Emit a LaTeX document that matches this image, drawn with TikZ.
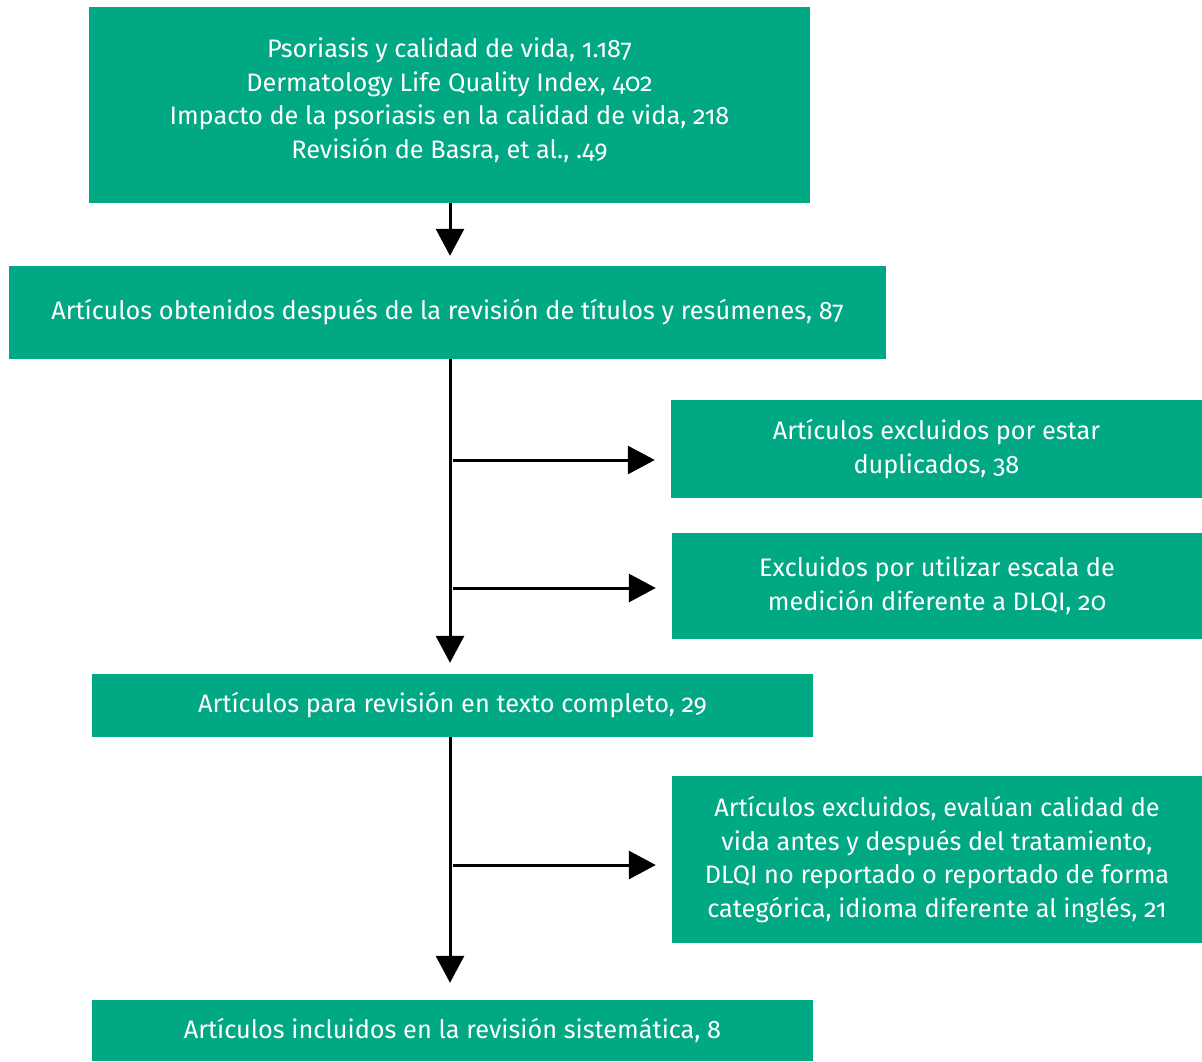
\documentclass[tikz,border=0pt]{standalone}
\usepackage{fontspec}
\setmainfont[Numbers=OldStyle]{Fira Sans}
\usetikzlibrary{arrows.meta}
\definecolor{boxgreen}{RGB}{0,168,132}
\tikzset{
  box/.style={fill=boxgreen, draw=none, text=white, align=center, inner sep=0pt,
    font=\fontsize{25.3}{33.6}\selectfont},
  conn/.style={line width=3pt, -{Triangle[width=28pt,length=27pt]}}
}
\begin{document}
\begin{tikzpicture}[x=1pt,y=-1pt]
\useasboundingbox (0,0) rectangle (1202,1061);
\node[box, minimum width=721pt, minimum height=196pt] (b1) at (449.5,105)
  {Psoriasis y calidad de vida, 1.187\\Dermatology Life Quality Index, 402\\Impacto de la psoriasis en la calidad de vida, 218\\Revisión de Basra, et al., .49\\[-20pt]};
\node[box, minimum width=877pt, minimum height=93pt] (b2) at (447.5,312.5)
  {Artículos obtenidos después de la revisión de títulos y resúmenes, 87};
\node[box, minimum width=531pt, minimum height=98pt] (b3) at (936.5,449)
  {Artículos excluidos por estar\\duplicados, 38};
\node[box, minimum width=530pt, minimum height=106pt] (b4) at (937,586)
  {Excluidos por utilizar escala de\\medición diferente a DLQI, 20};
\node[box, minimum width=721pt, minimum height=63pt] (b5) at (452.5,705.5)
  {Artículos para revisión en texto completo, 29};
\node[box, minimum width=530pt, minimum height=167pt] (b6) at (937,859.5)
  {Artículos excluidos, evalúan calidad de\\vida antes y después del tratamiento,\\DLQI no reportado o reportado de forma\\categórica, idioma diferente al inglés, 21};
\node[box, minimum width=721pt, minimum height=61pt] (b7) at (452.5,1030.5)
  {Artículos incluidos en la revisión sistemática, 8};

\coordinate (t1) at (450,203);
\coordinate (t2) at (450,359);
\coordinate (t5) at (450,737);
\coordinate (h3) at (453,460);
\coordinate (h4) at (453,588);
\coordinate (h6) at (453,865);

\draw[conn, shorten >=10pt] (t1) -- (t1 |- b2.north);
\draw[conn, shorten >=11pt] (t2) -- (t2 |- b5.north);
\draw[conn, shorten >=17pt] (t5) -- (t5 |- b7.north);
\draw[conn, shorten >=16pt] (h3) -- (h3 -| b3.west);
\draw[conn, shorten >=16pt] (h4) -- (h4 -| b4.west);
\draw[conn, shorten >=16pt] (h6) -- (h6 -| b6.west);
\end{tikzpicture}
\end{document}
